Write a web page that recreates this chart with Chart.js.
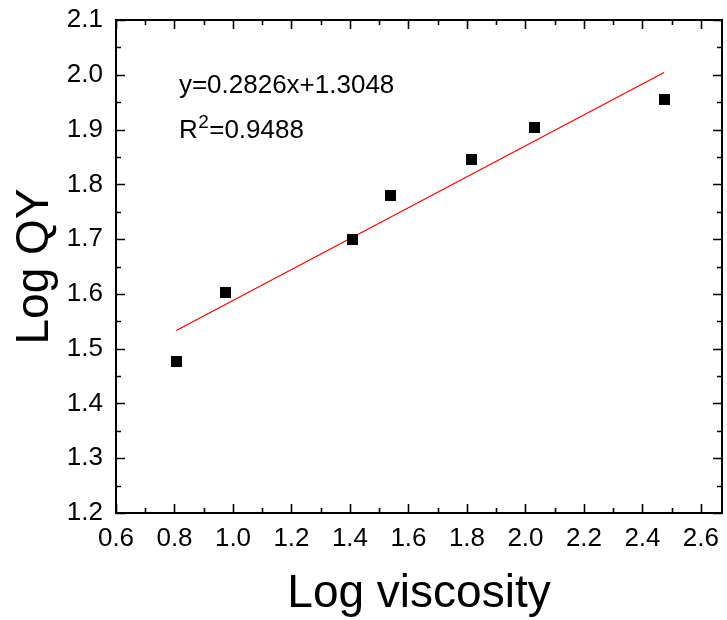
<!DOCTYPE html>
<html>
<head>
<meta charset="utf-8">
<script src="https://cdn.jsdelivr.net/npm/chart.js@4/dist/chart.umd.min.js"></script>
<style>
  html, body { margin: 0; padding: 0; background: #fff; }
  #wrap { width: 727px; height: 620px; }
</style>
</head>
<body>
<div id="wrap"><canvas id="c" width="727" height="620"></canvas></div>
<script>
// ---- data ----
const logViscosity = [0.806, 0.974, 1.410, 1.537, 1.817, 2.032, 2.474];
const logQY        = [1.477, 1.602, 1.699, 1.779, 1.846, 1.903, 1.955];
const fitX = [0.806, 2.474];
const fitY = [1.533, 2.004];
const xTicks = [0.6, 0.8, 1.0, 1.2, 1.4, 1.6, 1.8, 2.0, 2.2, 2.4, 2.6];
const yTicks = [1.2, 1.3, 1.4, 1.5, 1.6, 1.7, 1.8, 1.9, 2.0, 2.1];
const xMinorTicks = [0.7, 0.9, 1.1, 1.3, 1.5, 1.7, 1.9, 2.1, 2.3, 2.5];
const yMinorTicks = [1.25, 1.35, 1.45, 1.55, 1.65, 1.75, 1.85, 1.95, 2.05];
const eqText = "y=0.2826x+1.3048";
const r2Value = "=0.9488";
const eqAnchor = { x: 0.815, y: 1.967 };
const r2Anchor = { x: 0.815, y: 1.885 };

const FONT = "'Liberation Sans', Arial, Helvetica, sans-serif";

// square marker sprite (11 px)
const marker = document.createElement('canvas');
marker.width = 11; marker.height = 11;
(function () {
  const m = marker.getContext('2d');
  m.fillStyle = '#000';
  m.fillRect(0, 0, 11, 11);
})();

const framePlugin = {
  id: 'frame',
  afterDatasetsDraw(chart) {
    const { ctx, chartArea: a, scales } = chart;
    const xs = scales.x, ys = scales.y;
    ctx.save();
    ctx.strokeStyle = '#000';
    ctx.lineWidth = 2;
    ctx.strokeRect(a.left, a.top, a.right - a.left, a.bottom - a.top);
    ctx.lineWidth = 1.6;
    ctx.beginPath();
    const tick = (vals, len) => {
      vals.forEach(v => {
        const px = Math.round(xs.getPixelForValue(v)) + 0.5;
        ctx.moveTo(px, a.bottom); ctx.lineTo(px, a.bottom - len);
        ctx.moveTo(px, a.top); ctx.lineTo(px, a.top + len);
      });
    };
    const ytick = (vals, len) => {
      vals.forEach(v => {
        const py = Math.round(ys.getPixelForValue(v)) + 0.5;
        ctx.moveTo(a.left, py); ctx.lineTo(a.left + len, py);
        ctx.moveTo(a.right, py); ctx.lineTo(a.right - len, py);
      });
    };
    tick(xTicks, 9); tick(xMinorTicks, 5);
    ytick(yTicks, 9); ytick(yMinorTicks, 5);
    ctx.stroke();

    // annotation
    ctx.fillStyle = '#000';
    ctx.textBaseline = 'alphabetic';
    ctx.textAlign = 'left';
    ctx.font = '26px ' + FONT;
    const ex = xs.getPixelForValue(eqAnchor.x), ey = ys.getPixelForValue(eqAnchor.y);
    ctx.fillText(eqText, ex, ey);
    const rx = xs.getPixelForValue(r2Anchor.x), ry = ys.getPixelForValue(r2Anchor.y);
    ctx.fillText('R', rx, ry);
    let cx = rx + ctx.measureText('R').width;
    ctx.font = '19px ' + FONT;
    ctx.fillText('2', cx + 0.5, ry - 10);
    cx += ctx.measureText('2').width + 1;
    ctx.font = '26px ' + FONT;
    ctx.fillText(r2Value, cx, ry);
    ctx.restore();
  }
};

new Chart(document.getElementById('c'), {
  type: 'scatter',
  data: {
    datasets: [
      {
        label: 'data',
        data: logViscosity.map((x, i) => ({ x: x, y: logQY[i] })),
        pointStyle: marker,
        pointRadius: 1,
        pointHoverRadius: 1,
        backgroundColor: '#000',
        borderColor: '#000',
        borderWidth: 0,
        showLine: false
      },
      {
        label: 'fit',
        data: fitX.map((x, i) => ({ x: x, y: fitY[i] })),
        showLine: true,
        borderColor: '#ff0000',
        borderWidth: 1.2,
        pointRadius: 0,
        pointHoverRadius: 0,
        fill: false
      }
    ]
  },
  options: {
    responsive: false,
    animation: false,
    events: [],
    layout: { padding: { top: 20, right: 5, left: 0, bottom: 0 } },
    plugins: { legend: { display: false }, tooltip: { enabled: false } },
    scales: {
      x: {
        type: 'linear',
        min: 0.6,
        max: 2.672,
        afterBuildTicks: s => { s.ticks = xTicks.map(v => ({ value: v })); },
        afterFit: s => { s.height = 107; s.paddingLeft = 0; s.paddingRight = 0; },
        grid: { display: false, drawTicks: false },
        border: { display: false },
        ticks: {
          color: '#000',
          font: { family: FONT, size: 26 },
          padding: 10,
          maxRotation: 0,
          autoSkip: false,
          callback: v => Number(v).toFixed(1)
        },
        title: {
          display: true,
          text: 'Log viscosity',
          color: '#000',
          font: { family: FONT, size: 46 },
          padding: { top: 0, bottom: -2 }
        }
      },
      y: {
        type: 'linear',
        min: 1.2,
        max: 2.1,
        afterBuildTicks: s => { s.ticks = yTicks.map(v => ({ value: v })); },
        afterFit: s => { s.width = 116; s.paddingTop = 0; s.paddingBottom = 0; },
        grid: { display: false, drawTicks: false },
        border: { display: false },
        ticks: {
          color: '#000',
          font: { family: FONT, size: 26 },
          padding: 13,
          autoSkip: false,
          callback: v => Number(v).toFixed(1)
        },
        title: {
          display: true,
          text: 'Log QY',
          color: '#000',
          font: { family: FONT, size: 46 },
          padding: { top: 8, bottom: 0 }
        }
      }
    }
  },
  plugins: [framePlugin]
});
</script>
</body>
</html>
